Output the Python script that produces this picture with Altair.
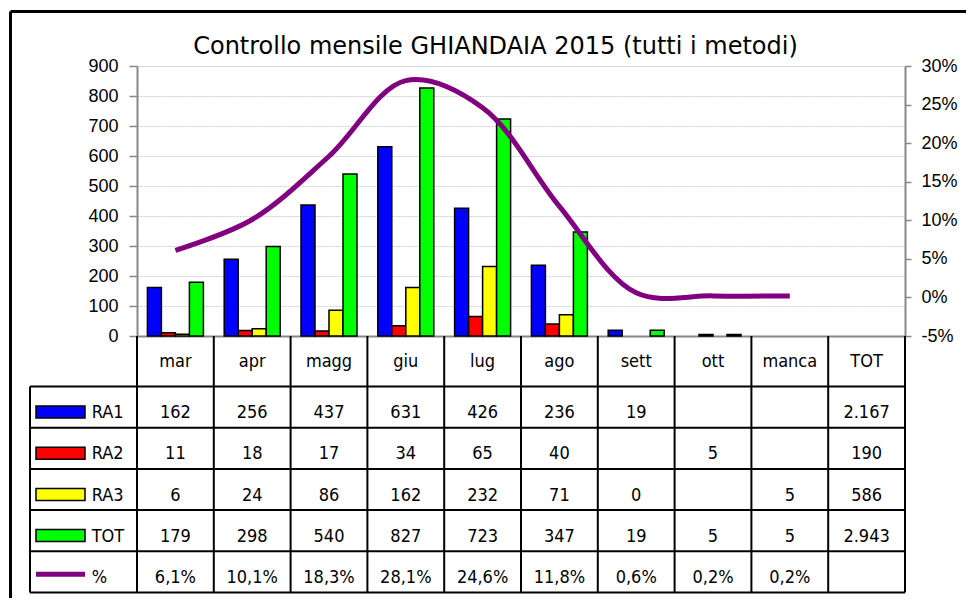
import altair as alt
import pandas as pd

# ---------------- data ----------------
months = ["mar", "apr", "magg", "giu", "lug", "ago", "sett", "ott", "manca"]
columns = months + ["TOT"]
series = ["RA1", "RA2", "RA3", "TOT"]
ra1 = [162, 256, 437, 631, 426, 236, 19, None, None]
ra2 = [11, 18, 17, 34, 65, 40, None, 5, None]
ra3 = [6, 24, 86, 162, 232, 71, 0, None, 5]
tot = [179, 298, 540, 827, 723, 347, 19, 5, 5]
pct = [0.061, 0.101, 0.183, 0.281, 0.246, 0.118, 0.006, 0.002, 0.002]
totals = [2167, 190, 586, 2943]
plotted_months = months[:8]          # months drawn as bars in the chart
y_ticks = [0, 100, 200, 300, 400, 500, 600, 700, 800, 900]
pct_ticks = [-0.05, 0.0, 0.05, 0.10, 0.15, 0.20, 0.25, 0.30]
title_text = "Controllo mensile GHIANDAIA 2015 (tutti i metodi)"
pct_label = "%"

# ---------------- style ----------------
colors = ["#0000FF", "#FF0000", "#FFFF00", "#00FF00"]
line_color = "#800080"
FONT = "DejaVu Sans Condensed"
TITLE_FONT = "DejaVu Sans"
W, H = 768, 270
ROW_TOP, ROW_BOTTOM = 320.5, 526.5
ROW_H = (ROW_BOTTOM - ROW_TOP) / 5
LEG_LEFT = -107

rows = []
for s, vals, t in zip(series, [ra1, ra2, ra3, tot], totals):
    for m, v in zip(months, vals):
        if v is not None:
            rows.append({"month": m, "series": s, "value": v})
    rows.append({"month": "TOT", "series": s, "value": t})
table_df = pd.DataFrame(rows)
bars_df = table_df[table_df["month"].isin(plotted_months) & (table_df["value"] > 0)]
pct_df = pd.DataFrame({"month": months, "series": pct_label, "pct": pct})
legend_df = pd.DataFrame({"series": series + [pct_label]})
cols_df = pd.DataFrame({"month": columns})
one = pd.DataFrame({"k": [0]})

x_scale = alt.Scale(domain=columns, paddingInner=0, paddingOuter=0)
x_axis = alt.Axis(title=None, orient="bottom", ticks=False, tickSize=0, labels=False,
                  domain=True, domainWidth=2, grid=False)
x_enc = alt.X("month:N", scale=x_scale, axis=x_axis)
row_scale = alt.Scale(domain=series + [pct_label], range=[ROW_TOP, ROW_BOTTOM],
                      paddingInner=0, paddingOuter=0)
y_row = alt.Y("series:N", scale=row_scale, axis=None)

bars = alt.Chart(bars_df).mark_bar(stroke="black", strokeWidth=1.5).encode(
    x=x_enc,
    xOffset=alt.XOffset("series:N", scale=alt.Scale(domain=series, paddingInner=0, paddingOuter=0.743)),
    y=alt.Y("value:Q", scale=alt.Scale(domain=[0, 900], nice=False),
            axis=alt.Axis(orient="left", values=y_ticks, title=None, grid=True,
                          gridColor="#d0d0d0", gridDash=[2, 1], gridWidth=1,
                          tickSize=8, tickWidth=1.5, domainWidth=2, labelPadding=11,
                          labelFontSize=18)),
    fill=alt.Fill("series:N", scale=alt.Scale(domain=series, range=colors), legend=None),
)

line = alt.Chart(pct_df).mark_line(color=line_color, strokeWidth=5, interpolate="catmull-rom").encode(
    x=x_enc,
    y=alt.Y("pct:Q", scale=alt.Scale(domain=[-0.05, 0.30], nice=False, zero=False),
            axis=alt.Axis(orient="right", values=pct_ticks, format=".0%", title=None,
                          grid=False, tickSize=6, tickWidth=1.5, domainWidth=2,
                          labelPadding=10, labelFontSize=18)),
)

# table grid
vlines = alt.Chart(cols_df).mark_rule(color="black", strokeWidth=2).encode(
    x=alt.X("month:N", scale=x_scale, bandPosition=0, axis=x_axis),
    y=alt.value(H), y2=alt.value(ROW_BOTTOM),
)
right_line = alt.Chart(one).mark_rule(color="black", strokeWidth=2).encode(
    x=alt.value(W), y=alt.value(H), y2=alt.value(ROW_BOTTOM))
left_line = alt.Chart(one).mark_rule(color="black", strokeWidth=2).encode(
    x=alt.value(LEG_LEFT), y=alt.value(ROW_TOP), y2=alt.value(ROW_BOTTOM))
hlines = [
    alt.Chart(one).mark_rule(color="black", strokeWidth=2).encode(
        x=alt.value(LEG_LEFT), x2=alt.value(W), y=alt.value(ROW_TOP + i * ROW_H))
    for i in range(6)
]

text_props = dict(font=FONT, fontSize=18, baseline="alphabetic", color="black")
header_text = alt.Chart(cols_df).mark_text(**text_props).encode(
    x=x_enc, y=alt.value(H + 30.5), text="month:N")
count_text = alt.Chart(table_df).mark_text(dy=11, **text_props).encode(
    x=x_enc, y=y_row, text=alt.Text("value:Q", format=",.0f"))
pct_text = alt.Chart(pct_df).mark_text(dy=11, **text_props).encode(
    x=x_enc, y=y_row, text=alt.Text("pct:Q", format=".1%"))
legend_text = alt.Chart(legend_df).mark_text(align="left", dy=11, **text_props).encode(
    x=alt.value(-45.3), y=y_row, text="series:N")

swatches = []
for i, (s, c) in enumerate(zip(series, colors)):
    top = ROW_TOP + i * ROW_H + 19.5
    swatches.append(
        alt.Chart(one).mark_rect(fill=c, stroke="black", strokeWidth=1.5).encode(
            x=alt.value(-101), x2=alt.value(-52), y=alt.value(top), y2=alt.value(top + 12)))
swatches.append(
    alt.Chart(one).mark_rule(color=line_color, strokeWidth=5).encode(
        x=alt.value(-101), x2=alt.value(-52), y=alt.value(ROW_TOP + 4 * ROW_H + 23)))

# outer frame and title
frame_top = alt.Chart(one).mark_rule(color="black", strokeWidth=3).encode(
    x=alt.value(-126.5), x2=alt.value(829), y=alt.value(-54.5))
frame_left = alt.Chart(one).mark_rule(color="black", strokeWidth=3).encode(
    x=alt.value(-126.5), y=alt.value(-54.5), y2=alt.value(532))
title = alt.Chart(pd.DataFrame({"t": [title_text]})).mark_text(
    font=TITLE_FONT, fontSize=24, align="center", baseline="alphabetic", color="black").encode(
    x=alt.value(358.5), y=alt.value(-12.5), text="t:N")

chart = alt.layer(
    frame_top, frame_left, title,
    bars, line,
    vlines, right_line, left_line, *hlines,
    header_text, count_text, pct_text, legend_text, *swatches,
).resolve_scale(y="independent").properties(
    width=W, height=H,
    autosize=alt.AutoSizeParams(type="none"),
    padding={"left": 129, "top": 58, "right": 61, "bottom": 262},
).configure_view(stroke=None).configure_axis(
    labelFont=FONT, labelColor="black", domainColor="black", tickColor="black",
).configure(
    locale=alt.Locale(number=alt.NumberLocale(decimal=",", thousands=".", grouping=[3],
                                              currency=["€", ""], minus="-")),
)

chart.save("out.html", embed_options={"renderer": "svg", "actions": False})
